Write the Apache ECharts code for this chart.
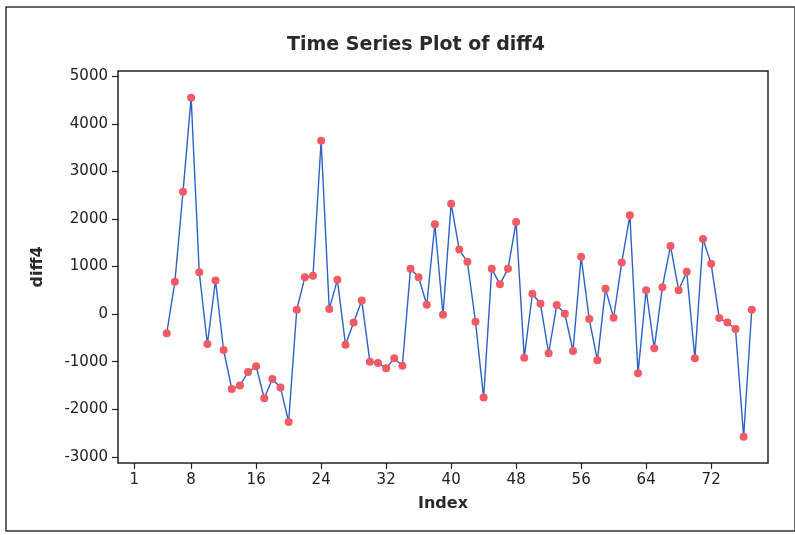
<!DOCTYPE html>
<html>
<head>
<meta charset="utf-8">
<script src="https://cdn.jsdelivr.net/npm/echarts@6/dist/echarts.min.js"></script>
<style>
  html, body { margin: 0; padding: 0; background: #fff; }
  #main { width: 795px; height: 535px; }
</style>
</head>
<body>
<div id="main"></div>
<script>
// diff4 starts at index 5 (first four lost to the lag-4 difference)
const firstIndex = 5
const diff4 = [
  -400, 680, 2570, 4550, 880, -630, 706, -755, -1573, -1503,
  -1217, -1098, -1769, -1364, -1545, -2266, 91, 776, 804, 3643,
  105, 720, -643, -175, 287, -1000, -1028, -1140, -930, -1084,
  951, 776, 196, 1888, -14, 2322, 1357, 1098, -161, -1755,
  951, 629, 951, 1937, -916, 427, 217, -825, 189, 7,
  -776, 1203, -105, -972, 531, -77, 1084, 2077, -1245, 503,
  -720, 566, 1434, 503, 888, -930, 1580, 1056, -84, -175,
  -315, -2580, 91
]
const xTicks = [1, 8, 16, 24, 32, 40, 48, 56, 64, 72]
const yTicks = [-3000, -2000, -1000, 0, 1000, 2000, 3000, 4000, 5000]

const chart = echarts.init(document.getElementById('main'))
const points = diff4.map((v, i) => [firstIndex + i, v])
const font = 'DejaVu Sans'

const option = {
  animation: false,
  backgroundColor: '#fff',
  title: {
    text: 'Time Series Plot of diff4',
    left: 411,
    textAlign: 'center',
    top: 31,
    textStyle: { fontFamily: font, fontWeight: 'bold', fontSize: 19, color: '#2a2a2a' }
  },
  grid: {
    left: 118,
    right: 27,
    top: 71,
    bottom: 72,
    show: true,
    borderColor: '#222',
    borderWidth: 1.5
  },
  xAxis: {
    type: 'value',
    min: -1,
    max: 79,
    name: 'Index',
    nameLocation: 'middle',
    nameGap: 33,
    nameTextStyle: { fontFamily: font, fontWeight: 'bold', fontSize: 16, color: '#2a2a2a' },
    axisLine: { show: false, onZero: false },
    splitLine: { show: false },
    axisTick: { show: true, length: 6, customValues: xTicks, lineStyle: { color: '#222', width: 1.2 } },
    axisLabel: { customValues: xTicks, margin: 10, fontFamily: font, fontSize: 15, color: '#222' }
  },
  yAxis: {
    type: 'value',
    min: -3130,
    max: 5110,
    name: 'diff4',
    nameLocation: 'middle',
    nameRotate: 90,
    nameGap: 72,
    nameTextStyle: { fontFamily: font, fontWeight: 'bold', fontSize: 16, color: '#2a2a2a' },
    axisLine: { show: false, onZero: false },
    splitLine: { show: false },
    axisTick: { show: true, length: 6, customValues: yTicks, lineStyle: { color: '#222', width: 1.2 } },
    axisLabel: {
      customValues: yTicks,
      margin: 10,
      fontFamily: font,
      fontSize: 15,
      color: '#222',
      formatter: (v) => String(v)
    }
  },
  series: [{
    type: 'line',
    data: points,
    symbol: 'circle',
    symbolSize: 8,
    itemStyle: { color: '#F25A64', borderWidth: 0 },
    lineStyle: { color: '#2A62C8', width: 1.4 },
    z: 3
  }],
  graphic: [{
    type: 'rect',
    shape: { x: 6, y: 7, width: 789, height: 524 },
    style: { fill: 'none', stroke: '#333', lineWidth: 1.5 },
    silent: true
  }]
}
chart.setOption(option)
</script>
</body>
</html>
